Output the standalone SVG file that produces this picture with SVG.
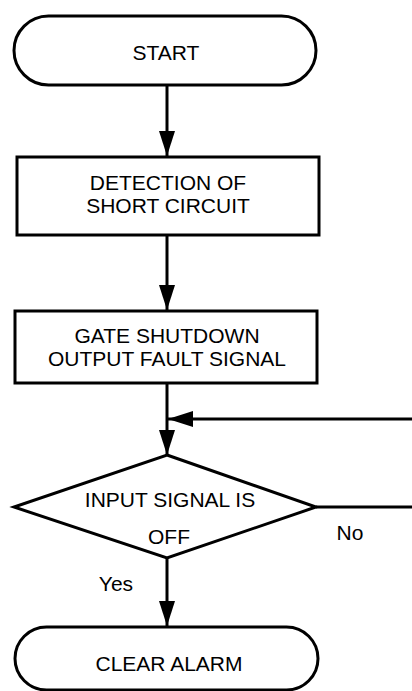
<svg xmlns="http://www.w3.org/2000/svg" width="412" height="691" viewBox="0 0 412 691">
<style>
.s{fill:#fff;stroke:#000;stroke-width:3}
.t{font-family:"Liberation Sans",Arial,sans-serif;font-size:21px;fill:#000;text-anchor:middle}
.c{fill:none;stroke:#000;stroke-width:3}
</style>
<defs>
<marker id="ah" markerUnits="userSpaceOnUse" markerWidth="26" markerHeight="16" viewBox="0 0 26 16" refX="25" refY="8" orient="auto">
<path d="M0,0 L25,8 L0,16 Z" fill="#000"/>
</marker>
</defs>
<rect width="412" height="691" fill="#fff"/>
<g id="connectors">
<line class="c" x1="167" y1="85" x2="167" y2="156" marker-end="url(#ah)"/>
<line class="c" x1="167" y1="235" x2="167" y2="310" marker-end="url(#ah)"/>
<line class="c" x1="167" y1="383" x2="167" y2="455" marker-end="url(#ah)"/>
<line class="c" x1="412" y1="419" x2="168" y2="419" marker-end="url(#ah)"/>
<line class="c" x1="316" y1="507" x2="412" y2="507"/>
<line class="c" x1="167" y1="558" x2="167" y2="626" marker-end="url(#ah)"/>
</g>
<g id="start">
<rect class="s" x="14" y="16" width="302" height="69" rx="34.5" ry="34.5"/>
<text class="t" x="166" y="60">START</text>
</g>
<g id="detect">
<rect class="s" x="17" y="157" width="302" height="78"/>
<text class="t" x="168" y="189.5">DETECTION OF</text>
<text class="t" x="168" y="212.5">SHORT CIRCUIT</text>
</g>
<g id="gate">
<rect class="s" x="15" y="311" width="302" height="72"/>
<text class="t" x="167" y="342.5">GATE SHUTDOWN</text>
<text class="t" x="167" y="365.5">OUTPUT FAULT SIGNAL</text>
</g>
<g id="decision">
<polygon class="s" points="167,455 316,507 167,558 14,507"/>
<text class="t" x="170" y="507">INPUT SIGNAL IS</text>
<text class="t" x="169" y="544">OFF</text>
</g>
<g id="labels">
<text class="t" x="350" y="540">No</text>
<text class="t" x="116" y="591">Yes</text>
</g>
<g id="clear">
<rect class="s" x="15" y="627" width="303" height="63" rx="31.5" ry="31.5"/>
<text class="t" x="169" y="671">CLEAR ALARM</text>
</g>
</svg>
